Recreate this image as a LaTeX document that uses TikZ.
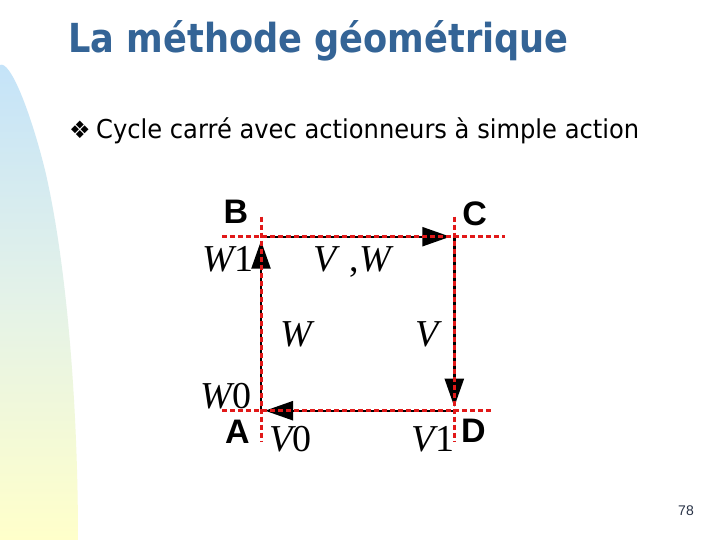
\documentclass[tikz,border=0pt]{standalone}
\usepackage{fontspec}
\setmainfont{DejaVu Sans}
\newfontfamily\arialf{Liberation Sans}
\newfontfamily\timesf{Liberation Serif}
\usetikzlibrary{arrows.meta}
\definecolor{titleblue}{RGB}{52,100,150}
\definecolor{dashred}{RGB}{225,25,25}
\definecolor{bgblue}{RGB}{196,227,249}
\definecolor{bgmid}{RGB}{228,242,232}
\definecolor{bgyellow}{RGB}{255,255,202}
\definecolor{pagegray}{RGB}{40,50,70}
\newcommand{\mvar}[1]{{\itshape #1}}
\begin{document}
\begin{tikzpicture}[x=1pt,y=-1pt,
  cyc/.style={black, line width=2.4pt, -{Triangle[length=28pt,width=19pt]}, shorten >=4pt},
  guide/.style={dashred, line width=3pt, dash pattern=on 5pt off 3pt},
  corner/.style={font=\arialf\bfseries\fontsize{34}{34}\selectfont, anchor=base, inner sep=0pt},
  mlabel/.style={font=\timesf\fontsize{38}{38}\selectfont, anchor=base, inner sep=0pt}]
\useasboundingbox (0,0) rectangle (720,540);
\fill[white] (0,0) rectangle (720,540);
% left decorative band
\shade[top color=bgblue, bottom color=bgyellow, middle color=bgmid]
  (0,540) -- (0,65) .. controls (10,60) and (30,110) .. (45,170)
  .. controls (66,260) and (78,400) .. (78,540) -- cycle;
% title and subtitle
\node[anchor=base west, inner sep=0pt, text=titleblue] (title) at (68,53)
  {\scalebox{0.88}[1]{\fontsize{40}{40}\selectfont\bfseries La méthode géométrique}};
\node[anchor=base west, inner sep=0pt] (bullet) at (69,138.5)
  {\fontsize{24}{24}\selectfont ❖};
\node[anchor=base west, inner sep=0pt] (subtitle) at (96,138.5)
  {\scalebox{0.93}[1]{\fontsize{26}{26}\selectfont Cycle carré avec actionneurs à simple action}};
% corners
\coordinate (A) at (261,410.7);
\coordinate (B) at (261,236.7);
\coordinate (C) at (454.3,236.7);
\coordinate (D) at (454.3,410.7);
% guide line ends
\coordinate (Htl) at (222,236.7);
\coordinate (Htr) at (505,236.7);
\coordinate (Hbl) at (222,410.7);
\coordinate (Hbr) at (493,410.7);
\coordinate (Vlt) at (261,216.7);
\coordinate (Vlb) at (261,441);
\coordinate (Vrt) at (454.3,216.7);
\coordinate (Vrb) at (454.3,441);
% cycle
\draw[cyc] (A) -- (B);
\draw[cyc] (B) -- (C);
\draw[cyc] (C) -- (D);
\draw[cyc] (D) -- (A);
% red dashed guides
\draw[guide] (Htl) -- (Htr);
\draw[guide] (Hbl) -- (Hbr);
\draw[guide] (Vlt) -- (Vlb);
\draw[guide] (Vrt) -- (Vrb);
% corner letters
\node[corner] (lB) at (235.8,223.5) {B};
\node[corner] (lC) at (474.7,225.5) {C};
\node[corner] (lA) at (237.5,443.3) {A};
\node[corner] (lD) at (473.3,442.3) {D};
% variable labels
\node[mlabel] (w1) at (228.3,271.7) {\mvar{W}1};
\node[mlabel] (vw) at (352.5,271.7) {\mvar{V}\,\,,\mvar{W}};
\node[mlabel] (w) at (296.7,346.7) {\mvar{W}};
\node[mlabel] (v) at (426.7,346.7) {\mvar{V}};
\node[mlabel] (w0) at (225.8,408.3) {\mvar{W}0};
\node[mlabel] (v0) at (290.8,451.7) {\mvar{V}0};
\node[mlabel] (v1) at (433,451.7) {\mvar{V}1};
% page number
\node[font=\arialf\fontsize{14}{14}\selectfont, text=pagegray, inner sep=0pt] (page) at (686,511) {78};
\end{tikzpicture}
\end{document}
